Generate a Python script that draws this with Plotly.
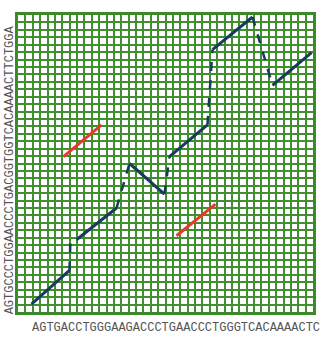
import plotly.graph_objects as go

seq_x = "AGTGACCTGGGAAGACCCTGAACCCTGGGTCACAAAACTC"
seq_y = "AGTGCCCTGGAACCCTGACGGTGGTCACAAAACTTCTGGA"

# matching diagonal segments (base positions, x along seq_x, y along seq_y)
blue_x0 = [1.83, 7.93, 15.12, 20.54, 26.37, 34.51]
blue_y0 = [1.07, 9.73, 20.0, 20.93, 35.33, 30.53]
blue_x1 = [6.98, 13.36, 19.86, 25.69, 31.80, 39.80]
blue_y1 = [5.60, 14.0, 15.87, 25.20, 39.73, 34.93]

# dashed connectors between consecutive segments
conn_x0 = [6.98, 13.36, 19.86, 25.69, 31.80]
conn_y0 = [5.60, 14.0, 15.87, 25.20, 39.73]
conn_x1 = [7.12, 15.12, 20.54, 26.37, 34.51]
conn_y1 = [10.13, 20.0, 20.93, 35.33, 30.53]

red_x0 = [6.17, 21.49]
red_y0 = [20.93, 10.27]
red_x1 = [11.32, 26.78]
red_y1 = [25.20, 14.53]

fig = go.Figure()

for a, b, c, d in zip(conn_x0, conn_y0, conn_x1, conn_y1):
    fig.add_trace(go.Scatter(x=[a, c], y=[b, d], mode="lines",
                             line=dict(color="#173a5e", width=2.5, dash="dash"),
                             hoverinfo="skip"))
for a, b, c, d in zip(blue_x0, blue_y0, blue_x1, blue_y1):
    fig.add_trace(go.Scatter(x=[a, c], y=[b, d], mode="lines",
                             line=dict(color="#173a5e", width=3),
                             hoverinfo="skip"))
for a, b, c, d in zip(red_x0, red_y0, red_x1, red_y1):
    fig.add_trace(go.Scatter(x=[a, c], y=[b, d], mode="lines",
                             line=dict(color="#e8392a", width=3),
                             hoverinfo="skip"))

axis_common = dict(range=[0, 40], dtick=1, tick0=0, showgrid=True,
                   gridcolor="#3f8f2f", gridwidth=1.6, zeroline=False,
                   showticklabels=False, ticks="", showline=True,
                   linecolor="#3a8a2a", linewidth=2.5, mirror=True, fixedrange=True)

fig.update_layout(
    width=328, height=341,
    margin=dict(l=18, r=14, t=12, b=29),
    paper_bgcolor="white", plot_bgcolor="white",
    showlegend=False,
    xaxis=axis_common, yaxis=axis_common,
    annotations=[
        dict(text=seq_x, xref="paper", yref="paper", x=0.535, y=-0.053,
             xanchor="center", yanchor="middle", showarrow=False,
             font=dict(family="Liberation Mono", size=12, color="#555")),
        dict(text=seq_y, xref="paper", yref="paper", x=-0.027, y=0.477,
             xanchor="center", yanchor="middle", showarrow=False, textangle=-90,
             font=dict(family="Liberation Mono", size=12, color="#555")),
    ],
)

fig.write_html("out.html")
